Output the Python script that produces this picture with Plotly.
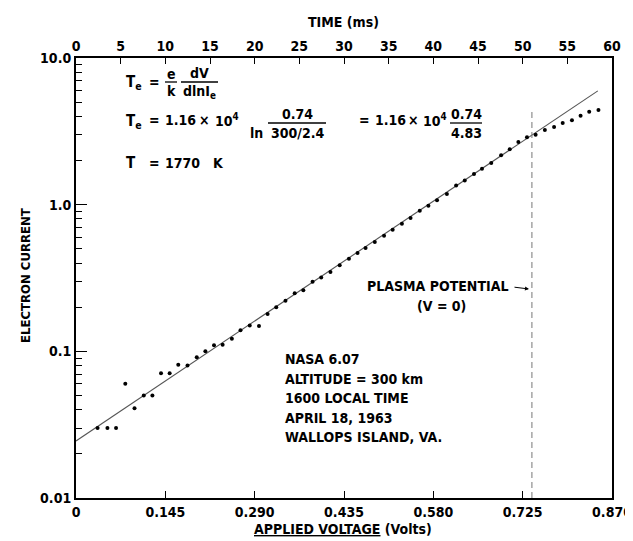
import plotly.graph_objects as go

# ---------------- data ----------------
voltage = [0.035, 0.051, 0.065, 0.080, 0.095, 0.110, 0.124, 0.138, 0.152, 0.166,
           0.181, 0.196, 0.210, 0.224, 0.238, 0.253, 0.267, 0.282, 0.297, 0.311,
           0.325, 0.340, 0.355, 0.369, 0.384, 0.398, 0.413, 0.428, 0.443, 0.457,
           0.470, 0.485, 0.500, 0.514, 0.529, 0.543, 0.558, 0.572, 0.586, 0.602,
           0.617, 0.631, 0.646, 0.659, 0.674, 0.690, 0.704, 0.718, 0.732, 0.746,
           0.761, 0.776, 0.790, 0.805, 0.819, 0.833, 0.848]
current = [0.030, 0.030, 0.030, 0.060, 0.041, 0.050, 0.050, 0.071, 0.071, 0.081,
           0.080, 0.091, 0.100, 0.110, 0.111, 0.122, 0.139, 0.150, 0.149, 0.180,
           0.200, 0.221, 0.249, 0.261, 0.298, 0.319, 0.347, 0.387, 0.428, 0.468,
           0.506, 0.556, 0.614, 0.675, 0.741, 0.811, 0.909, 0.984, 1.07, 1.18,
           1.35, 1.46, 1.62, 1.76, 1.92, 2.17, 2.39, 2.67, 2.88, 3.00,
           3.23, 3.38, 3.60, 3.76, 4.04, 4.30, 4.42]
fit_v = [0.0, 0.847]
fit_i = [0.0245, 5.97]
plasma_v = [0.74, 0.74]
plasma_i = [0.01, 4.5]

volt_ticks = [0, 0.145, 0.290, 0.435, 0.580, 0.725, 0.870]
volt_labels = ["0", "0.145", "0.290", "0.435", "0.580", "0.725", "0.870"]
time_ticks = [0, 5, 10, 15, 20, 25, 30, 35, 40, 45, 50, 55, 60]
cur_ticks = [0.01, 0.1, 1, 10]
cur_labels = ["0.01", "0.1", "1.0", "10.0"]

FONT = "DejaVu Sans Condensed, Liberation Sans Narrow, Arial Narrow, sans-serif"

# ---------------- layout geometry (pixels) ----------------
W, H = 633, 541
L, R, T, B = 68, 604, 50, 490
PW, PH = R - L, B - T


def px(x):
    return (x - L) / PW


def py(y):
    return (B - y) / PH


fig = go.Figure()
fig.add_trace(go.Scatter(x=fit_v, y=fit_i, mode="lines",
                         line=dict(color="#555555", width=1.1), hoverinfo="skip",
                         showlegend=False))
fig.add_trace(go.Scatter(x=plasma_v, y=plasma_i, mode="lines",
                         line=dict(color="#777777", width=1, dash="6px,4px"),
                         hoverinfo="skip", showlegend=False))
fig.add_trace(go.Scatter(x=voltage, y=current, mode="markers",
                         marker=dict(color="black", size=4), showlegend=False))
# helper trace to carry the top time axis
fig.add_trace(go.Scatter(x=time_ticks, y=[None] * len(time_ticks), xaxis="x2",
                         mode="markers", showlegend=False, hoverinfo="skip"))

tick_font = dict(family=FONT, size=14, color="black", weight="bold")

fig.update_layout(
    width=W, height=H,
    margin=dict(l=L, r=W - R, t=T, b=H - B, autoexpand=False),
    paper_bgcolor="white", plot_bgcolor="white",
    font=dict(family=FONT, color="black", size=14),
    xaxis=dict(range=[0, 0.87], tickvals=volt_ticks, ticktext=volt_labels,
               ticks="inside", ticklen=7, tickwidth=1.2, tickcolor="black",
               showline=True, linecolor="black", linewidth=2, automargin=False,
               showgrid=False, zeroline=False, tickfont=tick_font),
    xaxis2=dict(range=[0, 60], tickvals=time_ticks, overlaying="x", side="top",
                anchor="y", ticks="inside", ticklen=6, tickwidth=1.2,
                tickcolor="black", showline=True, linecolor="black",
                linewidth=1.6, showgrid=False, zeroline=False, tickfont=tick_font,
                automargin=False),
    yaxis=dict(type="log", range=[-2, 1], tickvals=cur_ticks, ticktext=cur_labels,
               ticks="inside", ticklen=11, tickwidth=1.2, tickcolor="black",
               showline=True, linecolor="black", linewidth=2, mirror=True,
               showgrid=False, zeroline=False, tickfont=tick_font,
               automargin=False,
               minor=dict(ticks="inside", ticklen=6, tickcolor="black",
                          dtick="D1", showgrid=False)),
)

ann = []


def text(x, y, s, size=14, anchor="left", angle=0):
    ann.append(dict(x=px(x), y=py(y), xref="paper", yref="paper", text=s,
                    showarrow=False, xanchor=anchor, yanchor="middle",
                    textangle=angle,
                    font=dict(family=FONT, size=size, color="black",
                              weight="bold")))


shapes = []


def bar(x0, x1, y):
    shapes.append(dict(type="line", xref="paper", yref="paper",
                       x0=px(x0), x1=px(x1), y0=py(y), y1=py(y),
                       line=dict(color="black", width=1.3)))


# axis titles
text(335, 14, "TIME (ms)", anchor="center")
text(335, 521, "<u>APPLIED VOLTAGE</u> (Volts)", anchor="center")
text(17, 268, "ELECTRON CURRENT", size=13, anchor="center", angle=-90)

# formula line 1
text(116, 75, "T<sub>e</sub>", size=15)
text(146, 74, "=", anchor="center")
text(163, 66, "e", anchor="center")
bar(157, 169, 74)
text(163, 83, "k", anchor="center")
text(191, 65, "dV", anchor="center")
bar(173, 210, 74)
text(191, 84, "dlnI<sub>e</sub>", anchor="center")

# formula line 2
text(116, 113, "T<sub>e</sub>", size=15)
text(146, 112, "=", anchor="center")
text(155, 112, "1.16")
text(196, 112, "\u00d7", anchor="center")
text(205, 112, "10<sup>4</sup>")
text(240, 125, "ln")
text(289, 106, "0.74", anchor="center")
bar(260, 318, 115)
text(289, 125, "300/2.4", anchor="center")
text(356, 112, "=", anchor="center")
text(365, 112, "1.16")
text(405, 112, "\u00d7", anchor="center")
text(413, 112, "10<sup>4</sup>")
text(458, 106, "0.74", anchor="center")
bar(442, 474, 115)
text(458, 125, "4.83", anchor="center")

# formula line 3
text(116, 155, "T", size=15)
text(146, 155, "=", anchor="center")
text(155, 155, "1770")
text(203, 155, "K")

# plasma potential
text(502, 278, "PLASMA POTENTIAL", anchor="right")
text(433, 298, "(V = 0)", anchor="center")
ann.append(dict(x=px(521), y=py(281), xref="paper", yref="paper", ax=-16, ay=-2,
                axref="pixel", ayref="pixel", text="", showarrow=True,
                arrowhead=2, arrowsize=0.8, arrowwidth=1, arrowcolor="black"))

# flight info
info = ["NASA 6.07", "ALTITUDE = 300 km", "1600 LOCAL TIME",
        "APRIL 18, 1963", "WALLOPS ISLAND, VA."]
for i, s in enumerate(info):
    text(275, 351 + 19.5 * i, s, size=14)

fig.update_layout(annotations=ann, shapes=shapes)
fig.write_html("out.html")
